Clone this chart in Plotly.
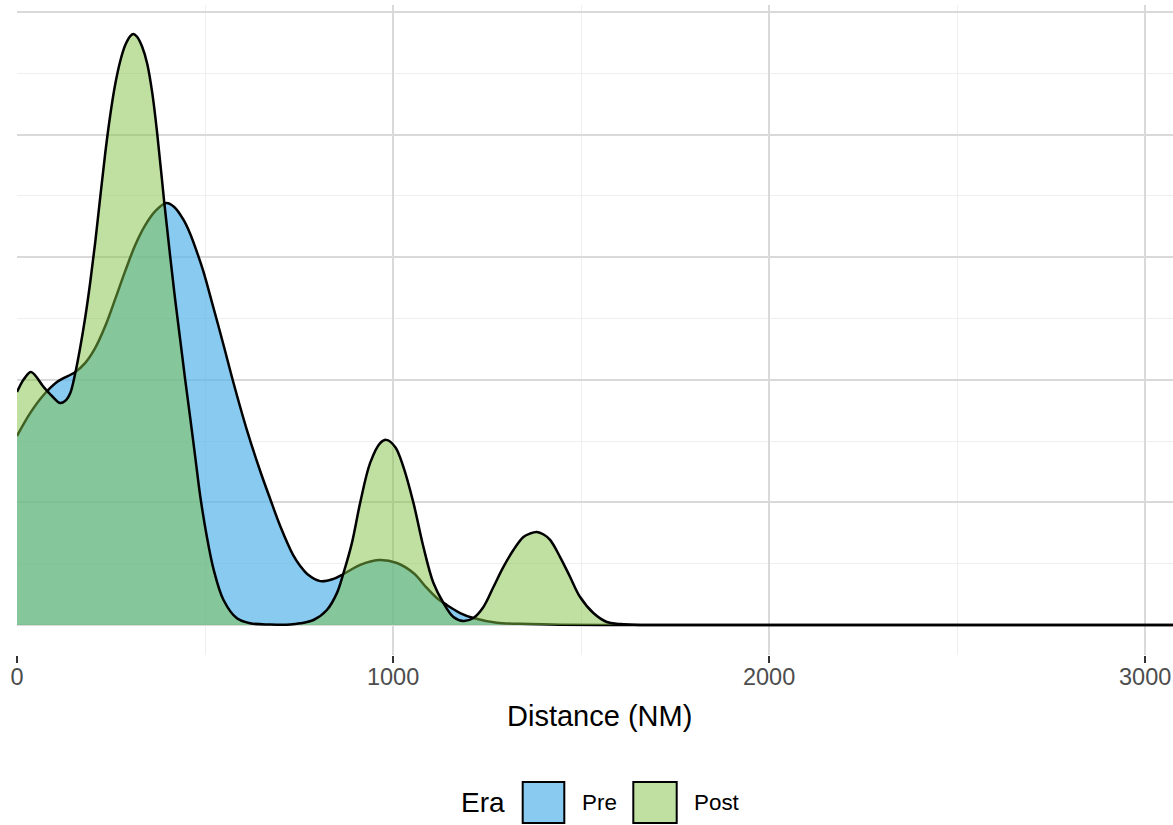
import plotly.graph_objects as go

# ---------------- data ----------------
pre_distance = [0.0, 35.4, 70.7, 106.3, 155.0, 181.6, 208.1, 234.7, 261.3, 287.9,
                314.5, 341.1, 367.7, 396.9, 418.1, 442.9, 460.7, 478.5, 495.2, 518.3,
                549.2, 575.8, 611.4, 646.7, 673.3, 699.9, 734.4, 753.1, 771.7, 806.2,
                841.6, 868.2, 912.5, 961.2, 1010.1, 1054.2, 1089.8, 1116.4, 1143.0, 1178.4,
                1213.7, 1275.9, 1364.4, 1444.2, 1550.6, 1700.0, 2000.0, 2500.0, 3100.0]
pre_density = [0.000771, 0.000865, 0.000938, 0.000991, 0.001032, 0.001069, 0.001130, 0.001219,
               0.001330, 0.001444, 0.001550, 0.001631, 0.001688, 0.001721, 0.001705, 0.001652,
               0.001595, 0.001521, 0.001444, 0.001317, 0.001142, 0.000987, 0.000795, 0.000628,
               0.000514, 0.000404, 0.000285, 0.000241, 0.000208, 0.000179, 0.000188, 0.000208,
               0.000245, 0.000265, 0.000253, 0.000212, 0.000151, 0.000110, 0.0000816, 0.0000489,
               0.0000285, 0.0000094, 0.0000041, 0.0000012, 0.0, 0.0, 0.0, 0.0, 0.0]

post_distance = [0.0, 18.6, 37.2, 70.7, 93.0, 115.1, 131.0, 141.7, 155.0, 168.3,
                 181.6, 194.8, 208.1, 221.4, 234.7, 248.0, 261.3, 274.6, 287.9, 301.2,
                 309.9, 319.8, 333.1, 346.4, 359.7, 373.0, 391.5, 407.5, 420.8, 434.1,
                 447.4, 460.7, 474.0, 487.2, 505.0, 522.6, 549.2, 584.8, 620.1, 673.3,
                 726.5, 753.0, 788.4, 824.0, 850.6, 868.2, 890.5, 912.5, 939.1, 965.7,
                 981.7, 1005.6, 1027.6, 1054.2, 1080.8, 1107.4, 1134.0, 1160.5, 1187.1, 1213.7,
                 1240.3, 1266.9, 1293.5, 1320.0, 1346.6, 1364.4, 1382.2, 1400.3, 1417.6, 1444.2,
                 1470.8, 1497.4, 1532.7, 1568.3, 1603.7, 1657.0, 1700.0, 2000.0, 2500.0, 3100.0]
post_density = [0.000950, 0.001003, 0.001032, 0.000971, 0.000934, 0.000905, 0.000918, 0.000946,
                 0.001028, 0.001134, 0.001256, 0.001399, 0.001562, 0.001746, 0.001925, 0.002080,
                 0.002206, 0.002300, 0.002365, 0.002402, 0.002410, 0.002398, 0.002357, 0.002288,
                 0.002170, 0.002002, 0.001725, 0.001501, 0.001325, 0.001162, 0.000999, 0.000844,
                 0.000685, 0.000526, 0.000359, 0.000228, 0.000102, 0.0000273, 0.0000069, 0.0000020,
                 0.0000020, 0.0000069, 0.0000204, 0.0000612, 0.000130, 0.000212, 0.000334, 0.000498,
                 0.000661, 0.000742, 0.000755, 0.000726, 0.000644, 0.000498, 0.000318, 0.000171,
                 0.0000897, 0.0000326, 0.0000163, 0.0000285, 0.0000734, 0.000155, 0.000237, 0.000306,
                 0.000359, 0.000373, 0.000379, 0.000369, 0.000347, 0.000277, 0.000196, 0.000114,
                 0.0000489, 0.0000122, 0.0000041, 0.0, 0.0, 0.0, 0.0, 0.0]

x_ticks = [0, 1000, 2000, 3000]
x_minor = [500, 1500, 2500]
legend_title = "Era"
series_names = ["Pre", "Post"]

PRE_FILL = "rgba(86,180,233,0.7)"
POST_FILL = "rgba(130,194,70,0.5)"

# ---------------- geometry ----------------
FIG_W, FIG_H = 1173, 825
L, T = 17, 5
PLOT_BOTTOM = 655
W = FIG_W - L
H = PLOT_BOTTOM - T


def px2x(px):
    return (px - L) / W


def py2y(py):
    return (PLOT_BOTTOM - py) / H


fig = go.Figure()
fig.add_trace(go.Scatter(x=pre_distance, y=pre_density, name=series_names[0], mode="lines",
                         line=dict(color="black", width=2.5, shape="spline", smoothing=1.0),
                         fill="tozeroy", fillcolor=PRE_FILL, showlegend=False, hoverinfo="skip"))
fig.add_trace(go.Scatter(x=post_distance, y=post_density, name=series_names[1], mode="lines",
                         line=dict(color="black", width=2.5, shape="spline", smoothing=1.0),
                         fill="tozeroy", fillcolor=POST_FILL, showlegend=False, hoverinfo="skip"))

ymin = -30 * 0.0005 / 122.6
ymax = 620 * 0.0005 / 122.6

fig.update_layout(
    width=FIG_W, height=FIG_H,
    margin=dict(l=L, r=0, t=T, b=FIG_H - PLOT_BOTTOM, pad=0),
    paper_bgcolor="white", plot_bgcolor="white",
    font=dict(family="Liberation Sans, Arial, sans-serif", color="black"),
    showlegend=False,
    xaxis=dict(range=[0, 3074], tickvals=x_ticks, ticktext=[str(v) for v in x_ticks],
               ticks="outside", ticklen=7, tickwidth=2, tickcolor="#333333",
               ticklabelstandoff=-6,
               tickfont=dict(size=23.5, color="#4D4D4D"),
               showgrid=True, gridcolor="#D9D9D9", gridwidth=2.2,
               minor=dict(tickvals=x_minor, showgrid=True, gridcolor="#EFEFEF", gridwidth=1.2, ticks=""),
               zeroline=False, showline=False),
    yaxis=dict(range=[ymin, ymax], tick0=0, dtick=0.0005, showticklabels=False, ticks="",
               showgrid=True, gridcolor="#D9D9D9", gridwidth=2.2,
               minor=dict(dtick=0.00025, showgrid=True, gridcolor="#EFEFEF", gridwidth=1.2),
               zeroline=False, showline=False),
)

annotations = [
    dict(text="Distance (NM)", x=px2x(599.5), y=py2y(716), font=dict(size=29, color="black")),
    dict(text=legend_title, x=px2x(483), y=py2y(802), font=dict(size=28, color="black")),
    dict(text=series_names[0], x=px2x(599), y=py2y(802), font=dict(size=22.4, color="black")),
    dict(text=series_names[1], x=px2x(716.7), y=py2y(802), font=dict(size=22.4, color="black")),
]
for a in annotations:
    a.update(xref="paper", yref="paper", showarrow=False, xanchor="center", yanchor="middle")
fig.update_layout(annotations=annotations)

boxes = [(522.7, 564.3, PRE_FILL), (633.3, 676.7, POST_FILL)]
for x0, x1, col in boxes:
    fig.add_shape(type="rect", xref="paper", yref="paper",
                  x0=px2x(x0), x1=px2x(x1), y0=py2y(823), y1=py2y(782),
                  fillcolor=col, line=dict(color="black", width=2))

fig.write_html("out.html", config={"displayModeBar": False},
               post_script="document.body.style.margin='0';document.body.style.overflow='hidden';")
